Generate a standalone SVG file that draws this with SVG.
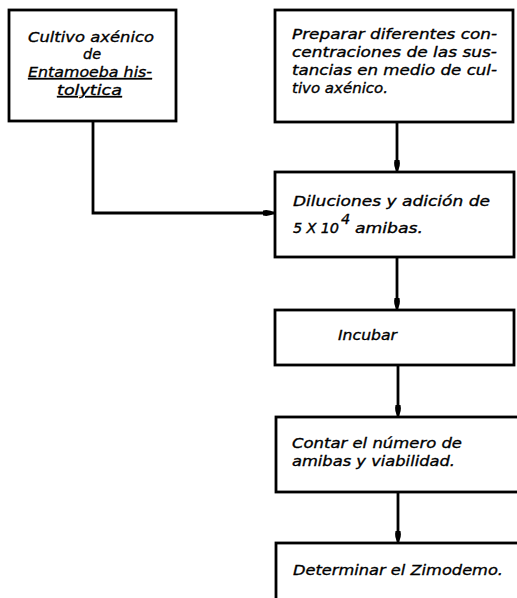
<svg xmlns="http://www.w3.org/2000/svg" width="517" height="598" viewBox="0 0 517 598">
<defs>
<style>
.box{fill:#fff;stroke:#000;stroke-width:2.8}
.t{font-family:"DejaVu Sans","Liberation Sans",Arial,sans-serif;font-style:italic;font-size:14.5px;fill:#000;stroke:#000;stroke-width:0.35}
.ln{fill:none;stroke:#000;stroke-width:2.8}
</style>
<marker id="ah" viewBox="0 0 12 8" refX="12" refY="4" markerWidth="12" markerHeight="8" markerUnits="userSpaceOnUse" orient="auto">
<path d="M0,1.5 Q6,0 12,4 Q6,8 0,6.5 Z" fill="#000"/>
</marker>
</defs>
<rect width="517" height="598" fill="#fff"/>
<g id="connectors">
<path class="ln" d="M93,121 V213 H275" marker-end="url(#ah)"/>
<path class="ln" d="M397,122 V172" marker-end="url(#ah)"/>
<path class="ln" d="M397,257 V310" marker-end="url(#ah)"/>
<path class="ln" d="M398,365 V417" marker-end="url(#ah)"/>
<path class="ln" d="M398,492 V543" marker-end="url(#ah)"/>
</g>
<g id="n1">
<rect class="box" x="9" y="10" width="167" height="111"/>
<text class="t" x="28" y="42" textLength="126" lengthAdjust="spacingAndGlyphs">Cultivo axénico</text>
<text class="t" x="92" y="59" text-anchor="middle">de</text>
<text class="t" x="28" y="77" textLength="124" lengthAdjust="spacingAndGlyphs" text-decoration="underline">Entamoeba his-</text>
<text class="t" x="57" y="95" textLength="65" lengthAdjust="spacingAndGlyphs" text-decoration="underline">tolytica</text>
</g>
<g id="n2">
<rect class="box" x="275" y="10" width="238" height="112"/>
<text class="t" x="292" y="39" textLength="205" lengthAdjust="spacingAndGlyphs">Preparar diferentes con-</text>
<text class="t" x="292" y="57" textLength="205" lengthAdjust="spacingAndGlyphs">centraciones de las sus-</text>
<text class="t" x="292" y="75" textLength="205" lengthAdjust="spacingAndGlyphs">tancias en medio de cul-</text>
<text class="t" x="292" y="93" textLength="96" lengthAdjust="spacingAndGlyphs">tivo axénico.</text>
</g>
<g id="n3">
<rect class="box" x="275" y="172" width="239" height="85"/>
<text class="t" x="293" y="206" textLength="197" lengthAdjust="spacingAndGlyphs">Diluciones y adición de</text>
<text class="t" x="293" y="233" textLength="46" lengthAdjust="spacing">5 X 10</text>
<text class="t" x="341" y="224" font-size="12.5">4</text>
<text class="t" x="355" y="233" textLength="68" lengthAdjust="spacingAndGlyphs">amibas.</text>
</g>
<g id="n4">
<rect class="box" x="275" y="310" width="239" height="55"/>
<text class="t" x="338" y="340" textLength="59" lengthAdjust="spacingAndGlyphs">Incubar</text>
</g>
<g id="n5">
<rect class="box" x="276" y="417" width="250" height="75"/>
<text class="t" x="292" y="448" textLength="170" lengthAdjust="spacingAndGlyphs">Contar el número de</text>
<text class="t" x="292" y="466" textLength="163" lengthAdjust="spacingAndGlyphs">amibas y viabilidad.</text>
</g>
<g id="n6">
<rect class="box" x="276" y="543" width="250" height="70"/>
<text class="t" x="293" y="575" textLength="210" lengthAdjust="spacingAndGlyphs">Determinar el Zimodemo.</text>
</g>
</svg>
